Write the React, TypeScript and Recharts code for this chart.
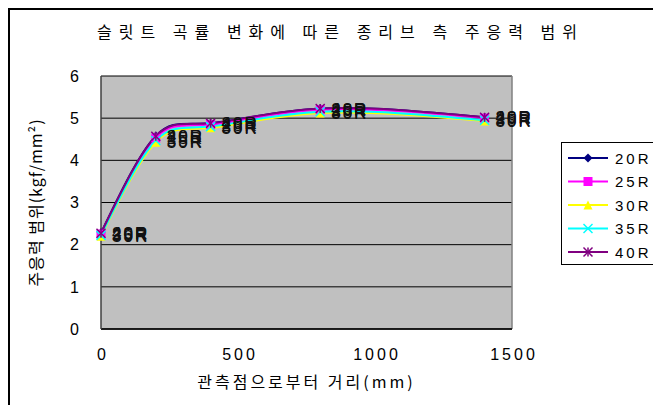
import React from "react";
import {
  CartesianGrid,
  Label,
  LabelList,
  Line,
  LineChart,
  XAxis,
  YAxis,
} from "recharts";

const distances = [0, 200, 400, 800, 1400];
const s20R = [2.28, 4.58, 4.88, 5.23, 5.02];
const s25R = [2.25, 4.53, 4.85, 5.2, 5.0];
const s30R = [2.2, 4.43, 4.77, 5.12, 4.93];
const s35R = [2.22, 4.47, 4.8, 5.15, 4.95];
const s40R = [2.27, 4.57, 4.88, 5.23, 5.02];
const xTicks = [0, 500, 1000, 1500];
const yTicks = [0, 1, 2, 3, 4, 5, 6];

const series = [
  { key: "r20", name: "20R", values: s20R, color: "#000080", shape: "diamond" },
  { key: "r25", name: "25R", values: s25R, color: "#ff00ff", shape: "square" },
  { key: "r30", name: "30R", values: s30R, color: "#ffff00", shape: "triangle" },
  { key: "r35", name: "35R", values: s35R, color: "#00ffff", shape: "cross" },
  { key: "r40", name: "40R", values: s40R, color: "#800080", shape: "star" },
];

const data = distances.map((d, i) => {
  const row: Record<string, number> = { x: d };
  series.forEach((s) => (row[s.key] = s.values[i]));
  return row;
});

const KR = "'Noto Sans CJK KR', 'Liberation Sans', sans-serif";
const NUM = "'Liberation Sans', Arial, sans-serif";

function Marker({ cx, cy, shape, color }: { cx: number; cy: number; shape: string; color: string }) {
  if (cx == null || cy == null) return null;
  const r = 4.5;
  switch (shape) {
    case "diamond":
      return <polygon points={`${cx},${cy - r} ${cx + r},${cy} ${cx},${cy + r} ${cx - r},${cy}`} fill={color} />;
    case "square":
      return <rect x={cx - r} y={cy - r} width={r * 2} height={r * 2} fill={color} />;
    case "triangle":
      return <polygon points={`${cx},${cy - r} ${cx + r},${cy + r} ${cx - r},${cy + r}`} fill={color} />;
    case "cross":
      return (
        <g stroke={color} strokeWidth={1.5}>
          <line x1={cx - r} y1={cy - r} x2={cx + r} y2={cy + r} />
          <line x1={cx - r} y1={cy + r} x2={cx + r} y2={cy - r} />
        </g>
      );
    default:
      return (
        <g stroke={color} strokeWidth={1.5}>
          <line x1={cx - r} y1={cy - r} x2={cx + r} y2={cy + r} />
          <line x1={cx - r} y1={cy + r} x2={cx + r} y2={cy - r} />
          <line x1={cx} y1={cy - r} x2={cx} y2={cy + r} />
        </g>
      );
  }
}

function LegendBox() {
  return (
    <div
      style={{
        position: "absolute",
        left: 551,
        top: 132,
        border: "1px solid #000",
        background: "#fff",
        width: 99,
        height: 123,
        boxSizing: "border-box",
      }}
    >
      <svg width={97} height={121} style={{ display: "block" }}>
        {series.map((s, i) => {
          const y = 15 + i * 23.5;
          return (
            <g key={s.key}>
              <line x1={6} x2={46} y1={y} y2={y} stroke={s.color} strokeWidth={2} />
              <Marker cx={26} cy={y} shape={s.shape} color={s.color} />
              <text x={53} y={y + 5.5} fontFamily={NUM} fontSize={15} letterSpacing={3} fill="#000">
                {s.name}
              </text>
            </g>
          );
        })}
      </svg>
    </div>
  );
}

export default function App() {
  return (
    <div
      style={{
        position: "relative",
        width: 653,
        height: 397,
        borderTop: "2px solid #000",
        borderLeft: "2px solid #000",
        boxSizing: "border-box",
        background: "#fff",
      }}
    >
      <div
        style={{
          position: "absolute",
          left: 4,
          top: 9,
          width: 653,
          textAlign: "center",
          fontFamily: KR,
          fontSize: 16,
          letterSpacing: 7,
          color: "#000",
        }}
      >
        슬릿트 곡률 변화에 따른 종리브 측 주응력 범위
      </div>
      <div style={{ position: "absolute", left: -2, top: -2 }}>
        <LineChart
          width={653}
          height={397}
          data={data}
          margin={{ top: 68, right: 149, bottom: 0, left: 0 }}
        >
          <CartesianGrid stroke="#000" strokeWidth={1} vertical={false} fill="#c0c0c0" />
          <line x1={504} x2={504} y1={68} y2={321} stroke="#808080" strokeWidth={1.5} />
          <XAxis
            dataKey="x"
            type="number"
            domain={[0, 1500]}
            ticks={xTicks}
            tickLine={false}
            axisLine={{ stroke: "#000", strokeWidth: 1.5 }}
            tick={{ fill: "#000", fontSize: 16, fontFamily: NUM, letterSpacing: 3, dx: 2 }}
            tickMargin={14}
            height={76}
          >
            <Label
              value="관측점으로부터 거리(mm)"
              position="insideTop"
              offset={48}
              style={{ fontFamily: KR, fontSize: 16, fill: "#000", letterSpacing: 3 }}
            />
          </XAxis>
          <YAxis
            type="number"
            domain={[0, 6]}
            ticks={yTicks}
            tickLine={false}
            axisLine={{ stroke: "#404040", strokeWidth: 1.5 }}
            tick={{ fill: "#000", fontSize: 16, fontFamily: NUM }}
            tickMargin={16}
            width={93}
          >
            <Label
              value="주응력 범위(kgf/mm²)"
              angle={-90}
              position="insideLeft"
              offset={28}
              style={{ fontFamily: KR, fontSize: 16, fill: "#000", textAnchor: "middle", letterSpacing: 1 }}
            />
          </YAxis>
          {series.map((s) => (
            <Line
              key={s.key}
              dataKey={s.key}
              name={s.name}
              type="natural"
              stroke={s.color}
              strokeWidth={2}
              isAnimationActive={false}
              dot={(p: any) => (
                <Marker key={`${s.key}-${p.index}`} cx={p.cx} cy={p.cy} shape={s.shape} color={s.color} />
              )}
            >
              <LabelList
                dataKey={() => s.name}
                position="right"
                offset={11}
                style={{
                  fontFamily: NUM,
                  fontSize: 17,
                  fill: "#111",
                  letterSpacing: 2,
                }}
              />
            </Line>
          ))}
        </LineChart>
      </div>
      <LegendBox />
    </div>
  );
}
